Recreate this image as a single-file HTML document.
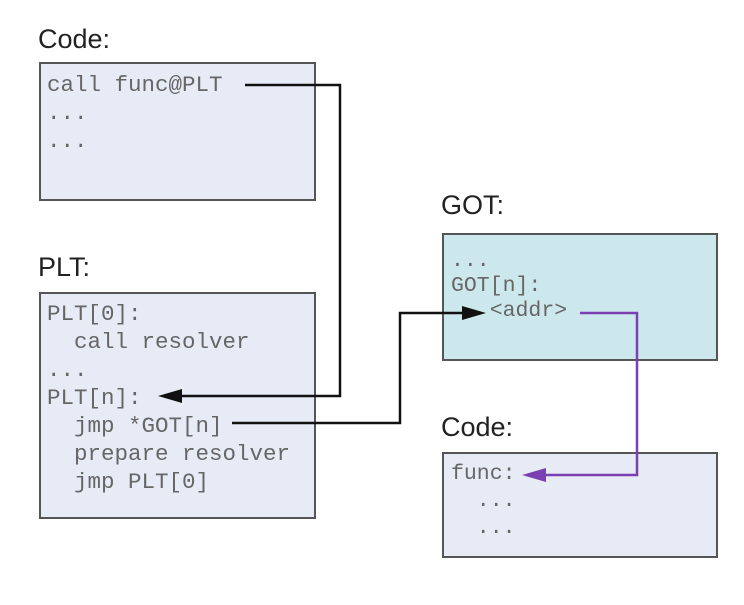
<!DOCTYPE html><html><head><style>
body{margin:0;width:744px;height:605px;background:#fff;position:relative;overflow:hidden;font-family:"Liberation Sans",sans-serif}
.t{position:absolute;font-size:27px;color:#222}
.b{position:absolute;border:2px solid #555;box-sizing:border-box;background:#e6ebf6}
.m{position:absolute;font-family:"Liberation Mono",monospace;color:#666;white-space:pre;font-size:22.5px}
</style></head><body>
<div class="t" style="left:38px;top:24px">Code:</div>
<div class="b" style="left:39px;top:62px;width:277px;height:139px"></div>
<div class="m" style="left:47px;top:71px;line-height:28px">call func@PLT
...
...</div>
<div class="t" style="left:38px;top:252px">PLT:</div>
<div class="b" style="left:39px;top:292px;width:277px;height:227px"></div>
<div class="m" style="left:47px;top:300px;line-height:28px">PLT[0]:
  call resolver
...
PLT[n]:
  jmp *GOT[n]
  prepare resolver
  jmp PLT[0]</div>
<div class="t" style="left:441px;top:190px">GOT:</div>
<div class="b" style="left:442px;top:233px;width:276px;height:128px;background:#cde8ec"></div>
<div class="m" style="left:451px;top:249px;line-height:25px;font-size:21.5px">...
GOT[n]:
   &lt;addr&gt;</div>
<div class="t" style="left:441px;top:412px">Code:</div>
<div class="b" style="left:442px;top:452px;width:276px;height:106px"></div>
<div class="m" style="left:451px;top:461px;line-height:27px;font-size:21.5px">func:
  ...
  ...</div>
<svg width="744" height="605" style="position:absolute;left:0;top:0">
<polyline points="245,85 340,85 340,396 180,396" fill="none" stroke="#111" stroke-width="2.5"/>
<polygon points="158,396 182,389 182,403" fill="#111"/>
<polyline points="232,423 400,423 400,313 466,313" fill="none" stroke="#111" stroke-width="2.5"/>
<polygon points="486,313 462,306 462,320" fill="#111"/>
<polyline points="580,313 637,313 637,475 542,475" fill="none" stroke="#7a3fb0" stroke-width="2.5"/>
<polygon points="522,475 546,468 546,482" fill="#7a3fb0"/>
</svg>
</body></html>
